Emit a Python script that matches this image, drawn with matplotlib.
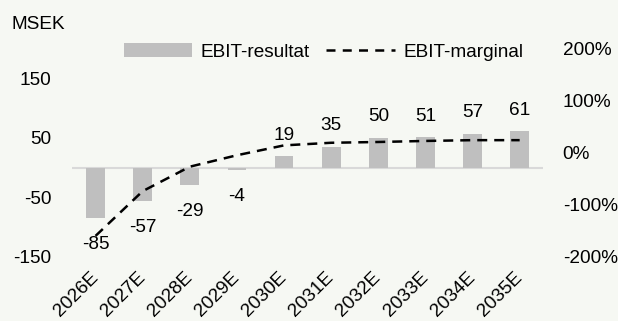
import matplotlib.pyplot as plt
from matplotlib.lines import Line2D
from matplotlib.ticker import FuncFormatter

plt.rcParams['font.family'] = ['Liberation Sans', 'DejaVu Sans']
plt.rcParams['axes.unicode_minus'] = False

# EBIT forecast (MSEK) and EBIT margin (%)
years = ['2026E', '2027E', '2028E', '2029E', '2030E',
         '2031E', '2032E', '2033E', '2034E', '2035E']
ebit = [-85, -57, -29, -4, 19, 35, 50, 51, 57, 61]
margin = [-160, -74, -27, -5, 14, 19, 20.5, 22.5, 24, 24]

left_ticks = [-150, -50, 50, 150]
right_ticks = [-200, -100, 0, 100, 200]

bg = '#f6f8f3'
bar_color = '#bfbfbf'
fs = 13.7

fig = plt.figure(figsize=(6.18, 3.21), dpi=100, facecolor=bg)
ax = fig.add_axes([0.1165, 0.2003, 0.7625, 0.6483])
ax.set_facecolor(bg)
ax2 = ax.twinx()

x = list(range(len(years)))
bars = ax.bar(x, ebit, width=0.4, color=bar_color, zorder=2)
ax.axhline(0, color='#d9d9d9', lw=1.5, zorder=1)

# value labels outside the bar ends
for xi, v in zip(x, ebit):
    if v >= 0:
        ax.annotate(str(v), (xi, v), xytext=(0, 9), textcoords='offset points',
                    ha='center', va='bottom', fontsize=fs)
    else:
        ax.annotate(str(v), (xi, v), xytext=(0, -13), textcoords='offset points',
                    ha='center', va='top', fontsize=fs)

ax2.plot(x, margin, color='black', lw=1.8, dashes=(4, 2.8), zorder=3)

ax.set_xlim(-0.5, len(years) - 0.5)
ax.set_ylim(-150, 200)
ax2.set_ylim(-200, 200)
ax.set_yticks(left_ticks)
ax2.set_yticks(right_ticks)
ax2.yaxis.set_major_formatter(FuncFormatter(lambda v, p: f'{v:.0f}%'))

ax.set_xticks(x)
ax.set_xticklabels(years, rotation=45, ha='right', va='center',
                   rotation_mode='anchor', fontsize=fs)
ax.tick_params(axis='x', length=0, pad=13)
ax.tick_params(axis='y', length=0, pad=15, labelsize=fs)
ax2.tick_params(axis='y', length=0, pad=14, labelsize=fs)

for a in (ax, ax2):
    for s in a.spines.values():
        s.set_visible(False)

fig.text(0.019, 0.925, 'MSEK', fontsize=fs, va='center', ha='left')

line_handle = Line2D([], [], color='black', lw=1.8, dashes=(3.6, 2.9))
fig.legend([bars, line_handle], ['EBIT-resultat', 'EBIT-marginal'], ncol=2,
           loc='center left', bbox_to_anchor=(0.185, 0.838), frameon=False,
           fontsize=fs, handlelength=3.6, handletextpad=0.45,
           columnspacing=0.85, borderpad=0)

fig.savefig('out.png', dpi=100, facecolor=bg)
